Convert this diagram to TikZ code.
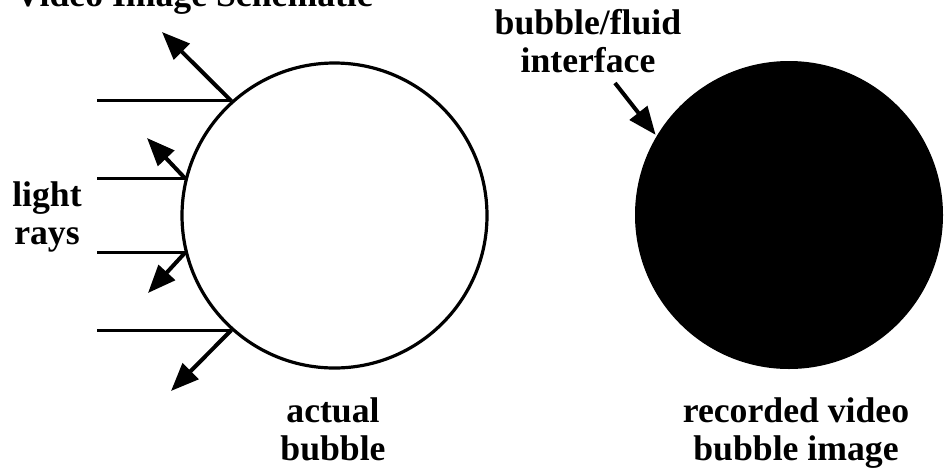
\documentclass[tikz,border=0pt]{standalone}
\usepackage{fontspec}
\setmainfont{Liberation Serif}
\usetikzlibrary{arrows.meta,positioning}

\begin{document}
\begin{tikzpicture}[x=1pt, y=-1pt,
  font=\fontsize{35.7}{38}\selectfont\bfseries,
  lbl/.style={align=center, anchor=base, inner sep=0pt},
  bub/.style={circle, inner sep=0pt, line width=3.2pt},
  ray/.style={line width=3pt},
  refl/.style={line width=4pt, -{Triangle[length=28pt,width=22pt]}}]
\useasboundingbox (0,0) rectangle (944,472);
\clip (0,0) rectangle (944,472);
\node[lbl, anchor=base west] (ttl) at (15,6) {Video Image Schematic};
\node[bub, draw, minimum size=305pt] (act) at (334.5,215.5) {};
\node[bub, fill, minimum size=308pt] (rec) at (789,215) {};
\coordinate (src) at (97,0);
\coordinate (t1) at (162,32);
\coordinate (t2) at (147,138);
\coordinate (t3) at (148,293);
\coordinate (t4) at (171,391);
\foreach \a in {132.5,166,194,228} \draw[ray] (act.\a -| src) -- (act.\a);
\foreach \a/\t in {132.5/t1,166/t2,194/t3,228/t4} \draw[refl] (act.\a) -- (\t);
\node[lbl] (rays) at (47,244) {light\\rays};
\node[lbl] (actl) at (333,460) {actual\\bubble};
\node[lbl] (recl) at (796,460) {recorded video\\bubble image};
\node[lbl] (ifc) at (588,72) {bubble/fluid\\interface};
\coordinate (ifs) at (615,83);
\draw[refl] (ifs) -- (rec.149);
\end{tikzpicture}
\end{document}
